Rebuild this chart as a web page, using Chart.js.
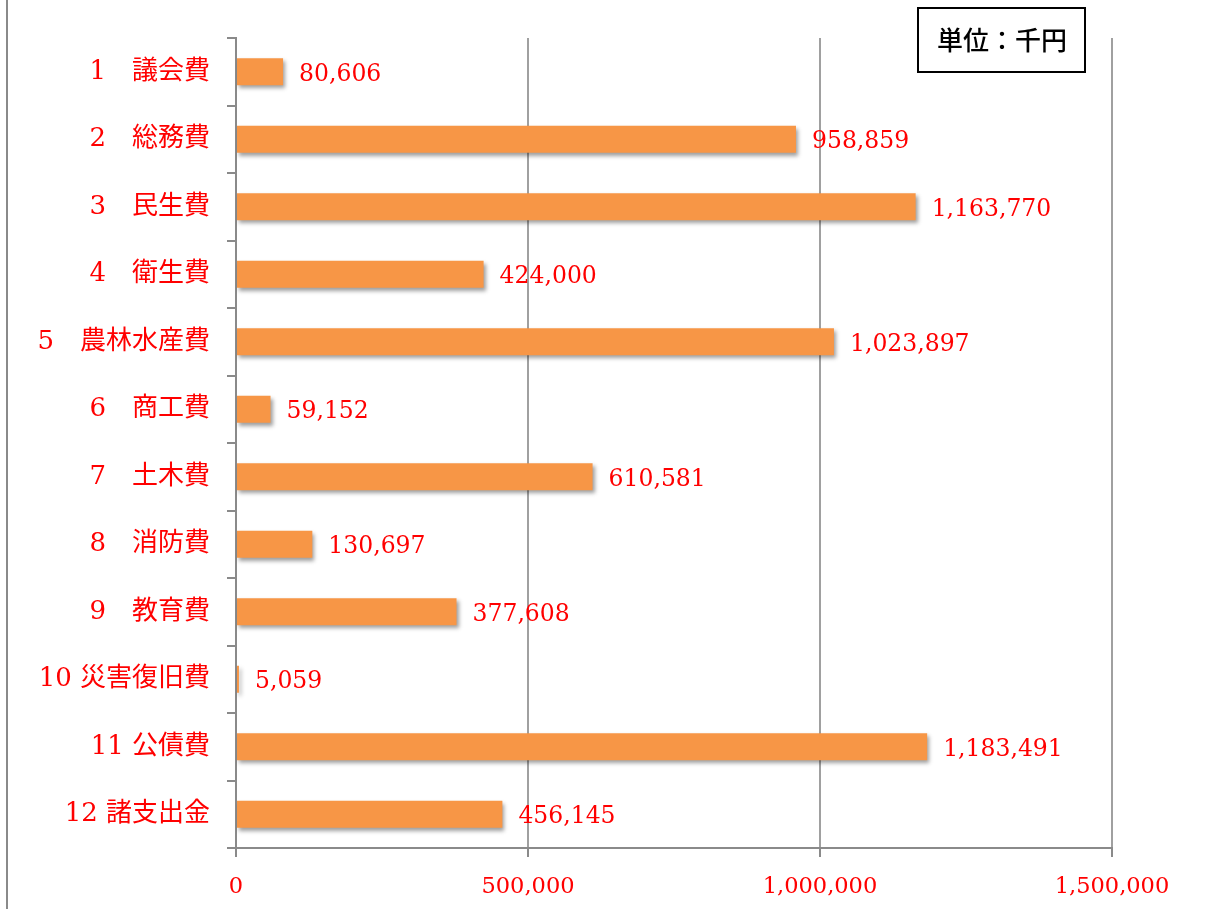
<!DOCTYPE html>
<html>
<head>
<meta charset="utf-8">
<script src="https://cdn.jsdelivr.net/npm/chart.js@4/dist/chart.umd.min.js"></script>
<style>
  html, body { margin: 0; padding: 0; background: #fff; }
  #wrap { position: relative; width: 1206px; height: 909px; }
</style>
</head>
<body>
<div id="wrap"><canvas id="c" width="1206" height="909"></canvas></div>
<script>
const categories = ['1\u3000議会費', '2\u3000総務費', '3\u3000民生費', '4\u3000衛生費', '5\u3000農林水産費', '6\u3000商工費', '7\u3000土木費', '8\u3000消防費', '9\u3000教育費', '10 災害復旧費', '11 公債費', '12 諸支出金'];
const values = [80606, 958859, 1163770, 424000, 1023897, 59152, 610581, 130697, 377608, 5059, 1183491, 456145];
const xTicks = [0, 500000, 1000000, 1500000];
const unitLabel = '単位：千円';

const RED = '#FF0000';
const fmt = v => v.toLocaleString('en-US');

const decor = {
  id: 'decor',
  beforeDraw(chart) {
    const ctx = chart.ctx;
    ctx.save();
    ctx.strokeStyle = '#8a8a8a';
    ctx.lineWidth = 2;
    ctx.beginPath();
    ctx.moveTo(7, 0);
    ctx.lineTo(7, 909);
    ctx.stroke();
    ctx.restore();
  },
  beforeDatasetDraw(chart) {
    const ctx = chart.ctx;
    ctx.save();
    ctx.shadowColor = 'rgba(0,0,0,0.38)';
    ctx.shadowOffsetX = 2;
    ctx.shadowOffsetY = 3;
    ctx.shadowBlur = 4;
  },
  afterDatasetDraw(chart) {
    chart.ctx.restore();
  },
  afterDatasetsDraw(chart) {
    const ctx = chart.ctx;
    const meta = chart.getDatasetMeta(0);
    ctx.save();
    ctx.fillStyle = RED;
    ctx.font = "23.5px 'DejaVu Serif'";
    ctx.textAlign = 'left';
    ctx.textBaseline = 'middle';
    meta.data.forEach((el, i) => {
      ctx.fillText(fmt(values[i]), el.x + 16, el.y + 3);
    });
    // unit box
    ctx.strokeStyle = '#000';
    ctx.lineWidth = 2;
    ctx.strokeRect(918, 8, 167, 64);
    ctx.fillStyle = '#000';
    ctx.font = "500 26px 'Noto Sans CJK JP'";
    ctx.textAlign = 'center';
    ctx.fillText(unitLabel, 1002, 40);
    ctx.restore();
  }
};

new Chart(document.getElementById('c'), {
  type: 'bar',
  data: {
    labels: categories,
    datasets: [{
      data: values,
      backgroundColor: '#F79646',
      borderWidth: 0,
      barPercentage: 0.4,
      categoryPercentage: 1.0
    }]
  },
  options: {
    indexAxis: 'y',
    responsive: false,
    animation: false,
    devicePixelRatio: 1,
    layout: { padding: { left: 0, right: 94, top: 38, bottom: 0 } },
    plugins: { legend: { display: false }, tooltip: { enabled: false } },
    scales: {
      x: {
        min: 0,
        max: 1500000,
        afterBuildTicks(scale) { scale.ticks = xTicks.map(v => ({ value: v })); },
        afterFit(scale) { scale.height = 61; },
        grid: { color: '#a0a0a0', lineWidth: 2, tickLength: 9, tickColor: '#8a8a8a' },
        border: { color: '#8a8a8a', width: 2 },
        ticks: {
          color: RED,
          font: { family: "'DejaVu Serif'", size: 22.5 },
          padding: 17,
          maxRotation: 0,
          callback: v => fmt(v)
        }
      },
      y: {
        afterFit(scale) { scale.width = 236; },
        grid: { drawOnChartArea: false, offset: true, tickLength: 9, color: '#8a8a8a', lineWidth: 2 },
        border: { color: '#8a8a8a', width: 2 },
        ticks: {
          color: RED,
          font: { family: "'DejaVu Serif', 'Noto Sans CJK JP'", size: 26 },
          padding: 17
        }
      }
    }
  },
  plugins: [decor]
});
</script>
</body>
</html>
